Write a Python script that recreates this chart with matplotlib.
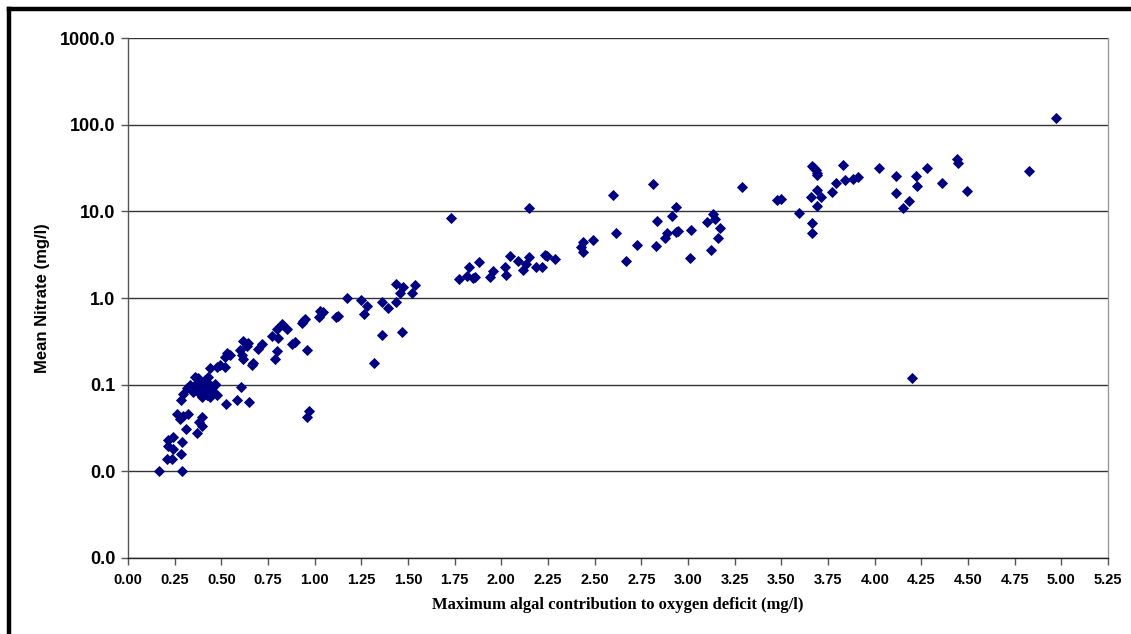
import matplotlib
matplotlib.use("Agg")
from matplotlib import pyplot as plt
from matplotlib.lines import Line2D
from matplotlib.ticker import FixedLocator, FormatStrFormatter, NullLocator

# maximum algal contribution to oxygen deficit (mg/l)
x_low = [0.168, 0.288, 0.207, 0.234, 0.282, 0.243, 0.216, 0.288, 0.216, 0.239,
         0.311, 0.371, 0.395, 0.382, 0.395, 0.264, 0.279, 0.323, 0.296, 0.282,
         0.525, 0.586, 0.650, 0.605,
         0.296, 0.314, 0.332, 0.359, 0.377, 0.395, 0.412, 0.430, 0.440, 0.466,
         0.457, 0.421, 0.386, 0.368, 0.350, 0.403, 0.421, 0.448, 0.395, 0.440,
         0.475, 0.340, 0.360, 0.410, 0.430, 0.380, 0.466]
y_low = [0.010, 0.010, 0.014, 0.0138, 0.0158, 0.018, 0.0195, 0.022, 0.023, 0.0246,
         0.031, 0.028, 0.033, 0.037, 0.042, 0.046, 0.040, 0.046, 0.043, 0.066,
         0.060, 0.066, 0.063, 0.095,
         0.079, 0.091, 0.100, 0.124, 0.118, 0.104, 0.113, 0.124, 0.100, 0.102,
         0.083, 0.076, 0.079, 0.091, 0.083, 0.087, 0.091, 0.091, 0.073, 0.073,
         0.076, 0.095, 0.098, 0.096, 0.085, 0.088, 0.100]

x_mid = [0.440, 0.475, 0.493, 0.520, 0.529, 0.520, 0.546, 0.609, 0.614, 0.600,
         0.618, 0.645, 0.636, 0.671, 0.663, 0.698, 0.716, 0.770, 0.797, 0.823,
         0.850, 0.805, 0.797, 0.788, 0.877, 0.895, 0.930, 0.948, 0.940, 0.957,
         0.971, 0.957, 1.029, 1.025, 1.046, 1.114, 1.127, 1.172, 1.248, 1.279,
         1.266, 1.359, 1.395, 1.436, 1.436, 1.457, 1.475, 1.520, 1.537, 1.359,
         1.470, 1.318]
y_mid = [0.155, 0.160, 0.170, 0.160, 0.230, 0.210, 0.220, 0.220, 0.196, 0.250,
         0.320, 0.300, 0.280, 0.180, 0.170, 0.260, 0.295, 0.365, 0.435, 0.500,
         0.435, 0.350, 0.247, 0.200, 0.295, 0.310, 0.510, 0.570, 0.550, 0.250,
         0.050, 0.042, 0.700, 0.610, 0.690, 0.600, 0.620, 1.000, 0.950, 0.810,
         0.650, 0.890, 0.760, 0.910, 1.450, 1.130, 1.350, 1.150, 1.410, 0.370,
         0.400, 0.180]

x_high = [1.729, 2.148, 1.775, 1.814, 1.828, 1.846, 1.859, 1.879, 1.939, 1.954,
          2.020, 2.023, 2.046, 2.089, 2.118, 2.132, 2.148, 2.184, 2.218, 2.234,
          2.245, 2.287, 2.425, 2.439, 2.436, 2.489, 2.600, 2.612, 2.668, 2.725,
          2.814, 2.834, 2.830, 2.877, 2.886, 2.916, 2.936, 2.936, 2.945, 3.010,
          3.016, 3.100, 3.125, 3.136, 3.145, 3.171, 3.162,
          3.288, 3.475, 3.498, 3.596, 3.666, 3.662, 3.659, 3.662, 3.675, 3.686,
          3.693, 3.693, 3.693, 3.711, 3.693, 3.770, 3.790, 3.832, 3.841, 3.886,
          3.913, 4.023, 4.113, 4.113, 4.153, 4.184, 4.221, 4.225, 4.279, 4.359,
          4.443, 4.445, 4.493, 4.970, 4.828, 4.198]
y_high = [8.4, 10.8, 1.66, 1.79, 2.25, 1.69, 1.73, 2.58, 1.76, 2.05,
          2.26, 1.84, 3.05, 2.69, 2.10, 2.47, 3.00, 2.30, 2.30, 3.13,
          3.05, 2.82, 3.90, 4.46, 3.40, 4.67, 15.4, 5.6, 2.69, 4.1,
          20.6, 7.8, 3.95, 4.95, 5.65, 8.95, 11.3, 5.77, 6.0, 2.92,
          6.1, 7.6, 3.58, 9.3, 8.1, 6.5, 4.96,
          19.2, 13.5, 14.0, 9.7, 7.4, 5.6, 14.5, 33.2, 31.3, 30.0,
          27.9, 26.3, 17.5, 14.6, 11.6, 16.6, 21.2, 33.9, 22.8, 23.4,
          24.6, 31.3, 25.3, 16.3, 11.0, 13.1, 25.6, 19.6, 31.3, 21.3,
          39.8, 36.3, 17.3, 118.0, 29.6, 0.12]

x_vals = x_low + x_mid + x_high
y_vals = y_low + y_mid + y_high

x_ticks = [i * 0.25 for i in range(22)]
y_ticks = [0.001, 0.01, 0.1, 1, 10, 100, 1000]

fig = plt.figure(figsize=(11.31, 6.34), dpi=100)
ax = fig.add_axes([0.1132, 0.1199, 0.8665, 0.8201])

ax.plot(x_vals, y_vals, linestyle="none", marker="D", markersize=5,
        color="#000080", markeredgewidth=0.6)

ax.set_yscale("log")
ax.set_ylim(0.001, 1000)
ax.set_xlim(0, 5.25)
ax.yaxis.set_major_locator(FixedLocator(y_ticks))
ax.yaxis.set_minor_locator(NullLocator())
ax.yaxis.set_major_formatter(FormatStrFormatter("%.1f"))
ax.xaxis.set_major_locator(FixedLocator(x_ticks))
ax.xaxis.set_major_formatter(FormatStrFormatter("%.2f"))

ax.grid(axis="y", color="#333333", linewidth=1)
ax.set_axisbelow(True)

for lab in ax.get_yticklabels():
    lab.set_fontfamily("Liberation Sans")
    lab.set_fontweight("bold")
    lab.set_fontsize(13)
for lab in ax.get_xticklabels():
    lab.set_fontfamily("Liberation Sans")
    lab.set_fontweight("bold")
    lab.set_fontsize(10.5)

ax.tick_params(axis="both", direction="out", length=5, width=1, color="#555555")
ax.tick_params(axis="y", pad=4)
ax.tick_params(axis="x", pad=6)

ax.spines["top"].set_visible(False)
ax.spines["right"].set_color("#999999")
ax.spines["left"].set_color("#555555")
ax.spines["bottom"].set_color("#222222")
for s in ax.spines.values():
    s.set_linewidth(1)

ax.set_ylabel("Mean Nitrate (mg/l)", fontfamily="Liberation Sans",
              fontweight="bold", fontsize=12, labelpad=7)
ax.set_xlabel("Maximum algal contribution to oxygen deficit (mg/l)",
              fontfamily="Liberation Serif", fontweight="bold", fontsize=12,
              labelpad=7)

# thick frame on the left and top edges
fig.add_artist(Line2D([9 / 1131, 9 / 1131], [0, 1 - 9 / 634],
                      transform=fig.transFigure, color="black", linewidth=3.2))
fig.add_artist(Line2D([9 / 1131, 1], [1 - 9 / 634, 1 - 9 / 634],
                      transform=fig.transFigure, color="black", linewidth=3.2))

fig.savefig("out.png", dpi=100)
